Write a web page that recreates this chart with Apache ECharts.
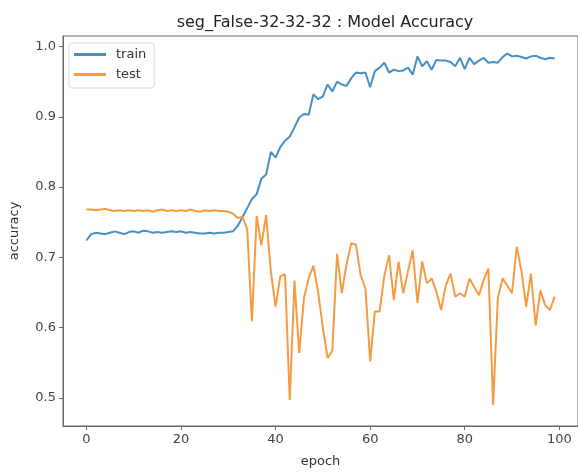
<!DOCTYPE html>
<html>
<head>
<meta charset="utf-8">
<script src="https://cdn.jsdelivr.net/npm/echarts@6/dist/echarts.min.js"></script>
<style>
  html, body { margin: 0; padding: 0; background: #fff; overflow: hidden; }
  #chart { width: 578px; height: 473px; }
</style>
</head>
<body>
<div id="chart"></div>
<script>
const epochs = Array.from({ length: 100 }, (_, i) => i)

const trainAcc = [
  0.724, 0.733, 0.735, 0.734, 0.733, 0.735, 0.737, 0.735, 0.733, 0.736,
  0.737, 0.735, 0.738, 0.737, 0.735, 0.736, 0.735, 0.736, 0.737, 0.736,
  0.737, 0.735, 0.736, 0.735, 0.734, 0.734, 0.735, 0.734, 0.735, 0.735,
  0.736, 0.737, 0.745, 0.757, 0.770, 0.783, 0.790, 0.812, 0.818, 0.850,
  0.842, 0.857, 0.866, 0.872, 0.885, 0.899, 0.904, 0.903, 0.932, 0.925,
  0.929, 0.946, 0.936, 0.950, 0.946, 0.944, 0.955, 0.963, 0.962, 0.963,
  0.942, 0.965, 0.970, 0.977, 0.963, 0.967, 0.965, 0.966, 0.970, 0.960,
  0.986, 0.972, 0.979, 0.967, 0.981, 0.980, 0.980, 0.978, 0.972, 0.984,
  0.968, 0.984, 0.975, 0.980, 0.984, 0.977, 0.978, 0.977, 0.985, 0.990,
  0.986, 0.987, 0.985, 0.983, 0.986, 0.987, 0.984, 0.982, 0.984, 0.983
]

const testAcc = [
  0.768, 0.768, 0.767, 0.768, 0.769, 0.767, 0.766, 0.767, 0.766, 0.767,
  0.766, 0.767, 0.766, 0.767, 0.765, 0.767, 0.768, 0.766, 0.767, 0.766,
  0.767, 0.766, 0.768, 0.766, 0.765, 0.767, 0.766, 0.767, 0.766, 0.766,
  0.765, 0.762, 0.756, 0.758, 0.740, 0.609, 0.759, 0.717, 0.760, 0.680,
  0.630, 0.673, 0.676, 0.497, 0.667, 0.564, 0.642, 0.670, 0.688, 0.651,
  0.600, 0.557, 0.567, 0.705, 0.649, 0.690, 0.720, 0.718, 0.674, 0.656,
  0.552, 0.623, 0.623, 0.674, 0.703, 0.639, 0.694, 0.649, 0.680, 0.710,
  0.635, 0.694, 0.663, 0.670, 0.651, 0.625, 0.660, 0.677, 0.644, 0.649,
  0.644, 0.670, 0.658, 0.646, 0.668, 0.684, 0.490, 0.642, 0.670, 0.660,
  0.649, 0.715, 0.680, 0.630, 0.677, 0.603, 0.653, 0.632, 0.625, 0.644
]

const xTicks = [0, 20, 40, 60, 80, 100]
const yTicks = [0.5, 0.6, 0.7, 0.8, 0.9, 1.0]

const chart = echarts.init(document.getElementById('chart'))
const font = 'DejaVu Sans'

chart.setOption({
  animation: false,
  backgroundColor: '#fff',
  textStyle: { fontFamily: font },
  title: {
    text: 'seg_False-32-32-32 : Model Accuracy',
    left: 320,
    top: 10,
    textAlign: 'center',
    textStyle: { fontFamily: font, fontSize: 16, fontWeight: 'normal', color: '#222' }
  },
  legend: {
    orient: 'vertical',
    left: 69,
    top: 43,
    padding: [5, 8, 7, 5],
    itemGap: 7,
    itemWidth: 32,
    itemHeight: 3,
    icon: 'rect',
    borderColor: '#d9d9d9',
    borderWidth: 1,
    borderRadius: 3,
    backgroundColor: '#fff',
    textStyle: { fontFamily: font, fontSize: 13, color: '#333', padding: [0, 0, 0, 5] },
    data: ['train', 'test']
  },
  grid: {
    left: 62,
    right: -24,
    top: 36,
    bottom: 46,
    show: true,
    borderColor: '#666',
    borderWidth: 1
  },
  xAxis: {
    type: 'value',
    min: -4.95,
    max: 103.95,
    name: 'epoch',
    nameLocation: 'middle',
    nameGap: 29,
    nameTextStyle: { fontFamily: font, fontSize: 13, color: '#333' },
    splitLine: { show: false },
    axisLine: { show: true, onZero: false, lineStyle: { color: '#666' } },
    axisTick: { show: true, length: 4, customValues: xTicks, lineStyle: { color: '#666' } },
    axisLabel: { customValues: xTicks, fontFamily: font, fontSize: 13, color: '#444', margin: 7 }
  },
  yAxis: {
    type: 'value',
    min: 0.46,
    max: 1.015,
    name: 'accuracy',
    nameLocation: 'middle',
    nameGap: 42,
    nameTextStyle: { fontFamily: font, fontSize: 13, color: '#333' },
    splitLine: { show: false },
    axisLine: { show: true, onZero: false, lineStyle: { color: '#666' } },
    axisTick: { show: true, length: 4, customValues: yTicks, lineStyle: { color: '#666' } },
    axisLabel: {
      customValues: yTicks,
      fontFamily: font,
      fontSize: 13,
      color: '#444',
      margin: 7,
      formatter: v => v.toFixed(1)
    }
  },
  series: [
    {
      name: 'train',
      type: 'line',
      showSymbol: false,
      color: '#4790c6',
      lineStyle: { width: 2, color: '#4790c6' },
      data: trainAcc.map((v, i) => [epochs[i], v])
    },
    {
      name: 'test',
      type: 'line',
      showSymbol: false,
      color: '#f59c42',
      lineStyle: { width: 2, color: '#f59c42' },
      data: testAcc.map((v, i) => [epochs[i], v])
    }
  ]
})
</script>
</body>
</html>
